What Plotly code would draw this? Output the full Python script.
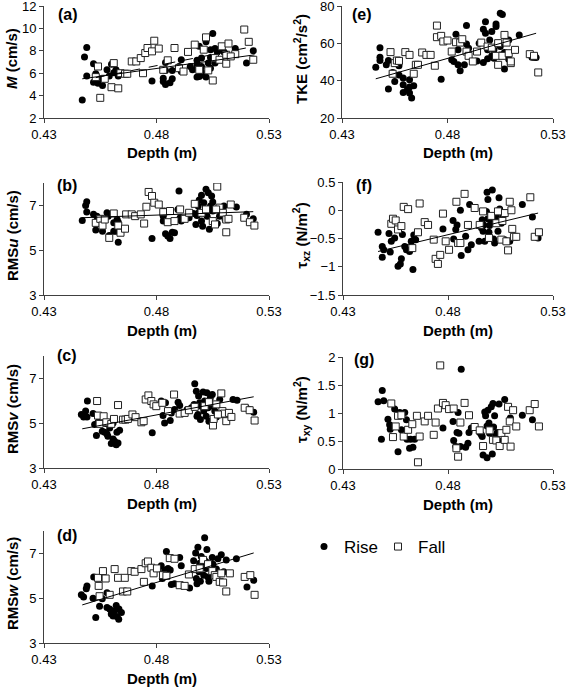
import plotly.graph_objects as go

W, H = 567, 687

# ---------------- data (depth m, value) ----------------
A_RISE = [(0.447,3.6),(0.449,8.3),(0.448,7.45),(0.449,5.75),(0.452,6.85),(0.453,5.95),(0.452,5.2),(0.454,5.1),(0.456,4.9),(0.455,5.5),
          (0.458,6.3),(0.459,5.75),(0.461,6.05),(0.462,6.3),(0.463,5.75),(0.460,6.8),(0.478,5.3),(0.483,5.25),(0.484,5.0),(0.486,5.15),
          (0.487,5.5),(0.483,5.55),(0.484,6.25),(0.484,6.95),(0.487,6.25),(0.491,7.2),(0.490,6.6),(0.491,6.15),(0.495,6.6),(0.496,6.3),
          (0.498,6.75),(0.498,7.15),(0.499,8.4),(0.500,7.35),(0.500,6.6),(0.499,5.7),(0.501,5.85),(0.502,5.65),(0.503,6.9),(0.504,8.1),
          (0.505,9.55),(0.502,8.8),(0.504,7.4),(0.506,8.2),(0.507,7.9),(0.506,6.9),(0.508,8.1),(0.510,7.9),(0.515,8.2),(0.520,6.9),
          (0.523,8.0),(0.498,5.65),(0.500,6.1),(0.504,6.45)]
A_FALL = [(0.454,6.6),(0.453,5.65),(0.455,3.8),(0.457,5.5),(0.460,4.75),(0.461,6.9),(0.463,4.65),(0.464,6.0),(0.466,5.95),(0.467,5.95),
          (0.469,7.05),(0.471,7.05),(0.473,7.35),(0.474,6.0),(0.475,7.8),(0.476,8.25),(0.478,7.95),(0.479,8.9),(0.481,8.2),(0.483,6.3),
          (0.485,7.15),(0.488,8.25),(0.490,6.45),(0.492,6.15),(0.494,7.9),(0.497,8.55),(0.499,6.3),(0.501,8.1),(0.502,9.2),(0.503,6.25),
          (0.505,5.35),(0.506,7.35),(0.508,7.2),(0.509,8.4),(0.511,7.65),(0.511,6.85),(0.512,8.65),(0.515,7.7),(0.519,9.9),(0.521,8.8),
          (0.523,7.2),(0.513,7.5)]

B_RISE = [(0.447,6.33),(0.449,7.16),(0.4485,7.0),(0.449,6.7),(0.452,6.6),(0.453,5.9),(0.4535,6.52),(0.456,5.85),(0.455,6.4),(0.458,6.67),
          (0.4585,6.52),(0.459,5.66),(0.461,6.22),(0.461,5.85),(0.462,5.85),(0.4625,6.37),(0.463,6.25),(0.463,5.36),(0.464,5.85),(0.478,5.52),
          (0.483,6.52),(0.483,6.3),(0.4835,6.75),(0.484,5.73),(0.485,5.63),(0.486,5.52),(0.487,5.8),(0.488,5.78),(0.4895,6.82),(0.490,7.64),
          (0.4905,6.45),(0.491,6.3),(0.4945,6.45),(0.4965,6.64),(0.4975,6.15),(0.498,6.55),(0.4985,6.97),(0.499,7.24),(0.499,6.7),(0.500,7.45),
          (0.500,6.3),(0.5005,6.07),(0.501,7.12),(0.502,7.72),(0.5025,6.52),(0.503,7.57),(0.5035,5.93),(0.504,6.97),(0.5045,7.42),(0.505,7.15),
          (0.505,6.75),(0.506,6.25),(0.507,6.19),(0.508,6.52),(0.510,6.97),(0.5105,6.37),(0.5155,6.93),(0.520,6.6),(0.523,6.4)]
B_FALL = [(0.453,6.22),(0.455,6.4),(0.456,6.1),(0.457,6.37),(0.459,5.55),(0.461,6.64),(0.463,6.1),(0.464,5.78),(0.466,5.96),(0.4665,6.6),
          (0.469,6.6),(0.4705,6.52),(0.473,6.6),(0.4745,6.19),(0.4755,6.94),(0.4765,7.6),(0.478,7.42),(0.479,7.12),(0.481,7.04),(0.483,6.7),
          (0.485,6.25),(0.486,6.75),(0.488,6.3),(0.4905,6.82),(0.4925,6.4),(0.4945,6.67),(0.497,7.07),(0.500,6.67),(0.502,6.82),(0.505,6.3),
          (0.506,6.15),(0.507,7.84),(0.508,6.9),(0.5095,6.67),(0.511,5.8),(0.511,6.37),(0.512,6.4),(0.513,7.04),(0.519,6.45),(0.5215,6.25),
          (0.5235,6.1),(0.5065,6.82)]

C_RISE = [(0.4466,5.39),(0.4476,5.28),(0.4485,5.54),(0.4493,5.99),(0.4491,5.28),(0.4518,5.43),(0.4525,4.94),(0.4533,4.45),(0.454,5.04),(0.4547,5.09),
          (0.4559,4.64),(0.457,4.6),(0.4574,4.99),(0.458,4.52),(0.4584,4.42),(0.4592,4.79),(0.4599,4.09),(0.4607,4.30),(0.4614,4.19),(0.4621,4.04),
          (0.4624,4.6),(0.4629,4.12),(0.4636,4.69),(0.4607,5.01),(0.4781,4.57),(0.4821,5.99),(0.4829,5.34),(0.4836,5.01),(0.484,5.91),(0.4861,5.12),
          (0.4866,5.46),(0.488,5.61),(0.4896,5.94),(0.4903,5.79),(0.4936,5.61),(0.4955,5.69),(0.4967,5.84),(0.497,6.76),(0.4977,6.43),(0.498,5.31),
          (0.4984,5.39),(0.4987,6.21),(0.4992,5.91),(0.4995,5.16),(0.4999,5.76),(0.5007,6.39),(0.501,5.54),(0.5014,5.99),(0.5021,5.31),(0.5024,6.36),
          (0.5029,5.69),(0.5033,5.09),(0.5039,6.13),(0.5048,6.28),(0.5051,5.76),(0.5059,5.54),(0.5066,5.28),(0.5081,6.06),(0.5096,5.39),(0.514,6.06),
          (0.5158,6.03),(0.5199,5.69),(0.5214,5.61),(0.5232,5.49)]
C_FALL = [(0.4536,5.99),(0.454,5.34),(0.4547,4.97),(0.4565,5.31),(0.4577,5.04),(0.4599,4.97),(0.4611,5.19),(0.4629,5.81),(0.4651,5.16),(0.4662,5.16),
          (0.4673,5.19),(0.4693,5.39),(0.4707,5.27),(0.4733,5.04),(0.4743,5.09),(0.4752,6.06),(0.4764,6.24),(0.4777,5.99),(0.4787,5.84),(0.4799,5.76),
          (0.4826,5.91),(0.4851,5.54),(0.4878,6.28),(0.4903,5.43),(0.4925,5.46),(0.4944,5.58),(0.497,5.73),(0.5014,5.76),(0.5033,5.94),(0.5051,4.90),
          (0.5054,5.19),(0.5066,5.84),(0.5088,6.33),(0.5093,5.54),(0.51,5.43),(0.511,5.09),(0.5122,5.46),(0.5133,5.28),(0.5192,5.69),(0.5214,5.58),
          (0.5236,5.12),(0.5073,5.39)]

D_RISE = [(0.4466,5.15),(0.4476,5.05),(0.4488,5.42),(0.4491,5.55),(0.4521,5.95),(0.4518,5.0),(0.453,4.14),(0.4547,4.64),(0.4559,4.97),(0.458,5.24),
          (0.458,4.59),(0.4592,4.52),(0.4599,4.29),(0.4607,4.21),(0.4614,4.44),(0.4621,4.67),(0.4624,4.18),(0.4632,4.06),(0.4633,4.52),(0.4644,4.36),
          (0.4781,5.55),(0.4821,6.45),(0.4826,5.88),(0.4836,6.26),(0.4844,7.09),(0.4851,6.33),(0.4861,6.26),(0.4866,5.61),(0.488,5.65),(0.4903,6.82),
          (0.491,6.45),(0.4947,5.45),(0.4965,6.67),(0.4974,7.02),(0.4977,5.88),(0.498,5.65),(0.4984,7.27),(0.4989,6.18),(0.4992,6.56),(0.4995,5.76),
          (0.4999,6.86),(0.5004,6.48),(0.501,6.03),(0.5014,7.70),(0.5019,6.64),(0.5021,6.33),(0.5024,7.17),(0.5029,5.95),(0.5033,5.76),(0.5039,6.41),
          (0.5048,6.82),(0.5051,6.52),(0.5059,6.18),(0.5066,6.3),(0.5073,6.76),(0.5088,6.94),(0.5099,6.18),(0.511,6.71),(0.5155,6.76),(0.5202,5.5),
          (0.5232,5.8)]
D_FALL = [(0.454,5.91),(0.4543,5.55),(0.4547,5.09),(0.4562,6.21),(0.4574,5.88),(0.4592,5.15),(0.4614,6.3),(0.4629,5.91),(0.4659,5.91),(0.4651,5.3),
          (0.467,5.3),(0.4688,6.21),(0.4703,6.18),(0.4733,6.3),(0.4744,5.73),(0.4752,6.56),(0.4762,6.64),(0.4777,6.36),(0.4787,6.11),(0.4802,6.33),
          (0.4829,6.03),(0.4844,6.0),(0.4859,6.79),(0.488,6.76),(0.4903,5.58),(0.4925,5.55),(0.4944,6.06),(0.497,6.3),(0.4992,6.33),(0.5007,6.71),
          (0.5029,6.52),(0.5048,6.21),(0.5059,6.03),(0.5066,5.95),(0.5081,5.73),(0.5088,6.11),(0.5096,5.7),(0.511,5.3),(0.5126,6.11),(0.5192,5.95),
          (0.5217,6.03),(0.5236,5.15)]

E_RISE = [(0.446,47.2),(0.448,52.6),(0.448,57.7),(0.448,50.8),(0.451,48.5),(0.452,50.8),(0.452,35.5),(0.454,44.4),(0.455,39.6),(0.457,43.1),
          (0.457,48.0),(0.459,37.8),(0.459,33.7),(0.461,35.1),(0.462,36.6),(0.462,40.5),(0.463,30.7),(0.464,37.3),(0.459,41.4),(0.462,33.4),
          (0.477,40.8),(0.482,51.2),(0.484,64.9),(0.483,50.3),(0.485,56.5),(0.485,48.5),(0.486,45.3),(0.488,48.5),(0.489,69.5),(0.489,59.7),
          (0.490,57.4),(0.494,50.6),(0.495,60.1),(0.497,67.5),(0.498,71.6),(0.497,49.7),(0.498,65.4),(0.499,56.5),(0.499,51.7),(0.500,61.8),
          (0.501,53.3),(0.501,66.3),(0.502,52.0),(0.503,69.0),(0.503,70.4),(0.505,76.1),(0.506,75.4),(0.505,58.3),(0.505,53.8),(0.502,56.5),
          (0.507,46.2),(0.507,55.1),(0.508,54.7),(0.509,61.8),(0.514,64.5),(0.520,52.6),(0.521,52.6),(0.522,52.4),(0.509,51.5)]
E_FALL = [(0.453,55.3),(0.455,49.4),(0.456,50.8),(0.457,50.6),(0.454,43.7),(0.460,55.3),(0.462,53.8),(0.464,43.7),(0.465,48.5),(0.466,48.5),
          (0.468,55.1),(0.470,53.8),(0.472,53.8),(0.474,48.0),(0.475,63.3),(0.475,69.5),(0.477,64.0),(0.478,61.0),(0.480,61.5),(0.482,55.6),
          (0.484,60.6),(0.486,60.4),(0.487,62.2),(0.489,55.6),(0.490,53.3),(0.492,50.3),(0.494,55.6),(0.496,60.4),(0.499,58.3),(0.501,57.7),
          (0.503,53.3),(0.504,60.1),(0.504,48.5),(0.506,53.3),(0.507,64.5),(0.508,60.4),(0.509,54.7),(0.510,49.4),(0.510,50.3),(0.512,56.5),
          (0.519,54.2),(0.521,53.3),(0.523,44.4)]

F_RISE = [(0.4467,-0.39),(0.4487,-0.83),(0.4487,-0.64),(0.4494,-0.70),(0.4519,-0.41),(0.4525,-0.74),(0.453,-0.55),(0.4546,-0.49),(0.4562,-0.99),(0.4573,-0.95),
          (0.4578,-0.86),(0.4583,-0.43),(0.4594,-0.64),(0.4602,-0.70),(0.4617,-0.73),(0.4625,-0.55),(0.4633,-1.05),(0.4637,-0.44),(0.4646,-0.52),(0.4776,-0.33),
          (0.4824,-0.18),(0.4827,-0.51),(0.4837,-0.34),(0.4843,-0.26),(0.4852,-0.57),(0.4859,0.0),(0.4863,-0.80),(0.4884,-0.46),(0.4895,-0.70),(0.4903,0.10),
          (0.4911,-0.61),(0.4948,-0.55),(0.4954,-0.26),(0.4959,-0.31),(0.4963,-0.17),(0.4967,-0.37),(0.497,-0.26),(0.4975,-0.55),(0.4983,-0.02),(0.4986,0.32),
          (0.499,0.19),(0.499,-0.15),(0.4995,-0.39),(0.4998,-0.27),(0.5,-0.17),(0.5011,0.36),(0.5017,-0.51),(0.5022,-0.58),(0.5027,-0.21),(0.503,-0.11),
          (0.5038,-0.37),(0.5043,0.22),(0.5046,0.02),(0.5054,-0.23),(0.5062,-0.10),(0.507,-0.52),(0.5094,-0.55),(0.5154,0.10),(0.5202,-0.12),(0.5229,-0.49)]
F_FALL = [(0.453,-0.24),(0.4538,-0.15),(0.4551,-0.18),(0.4562,-0.34),(0.4578,-0.28),(0.4589,0.06),(0.461,0.02),(0.463,-0.67),(0.4657,-0.39),(0.4665,0.12),
          (0.4689,-0.21),(0.4705,-0.26),(0.4732,-0.52),(0.4741,-0.86),(0.4752,-0.95),(0.4763,-0.79),(0.4776,-0.06),(0.4789,-0.55),(0.4805,-0.70),(0.484,0.15),
          (0.4848,-0.58),(0.4859,-0.58),(0.4879,0.29),(0.4895,-0.26),(0.4927,0.04),(0.4951,-0.26),(0.4967,-0.02),(0.4995,-0.49),(0.5006,-0.10),(0.503,-0.23),
          (0.5054,-0.52),(0.5059,-0.19),(0.507,-0.05),(0.5078,-0.55),(0.5086,-0.71),(0.5094,0.15),(0.5102,0.0),(0.5106,-0.33),(0.5114,-0.47),(0.5125,-0.47),
          (0.5192,0.23),(0.5213,-0.47),(0.5233,-0.39),(0.5038,-0.02)]

G_RISE = [(0.4467,1.20),(0.4487,1.40),(0.4494,1.22),(0.4483,0.53),(0.4514,0.89),(0.4522,0.79),(0.4525,0.71),(0.4546,1.07),(0.4562,0.31),(0.457,1.01),
          (0.4578,0.70),(0.4594,1.01),(0.4602,0.88),(0.4605,0.53),(0.4617,0.37),(0.4622,0.53),(0.4633,0.39),(0.4641,0.53),(0.4776,0.73),(0.4824,0.85),
          (0.4827,0.51),(0.4837,0.40),(0.4843,0.65),(0.4848,1.01),(0.4852,0.64),(0.4859,0.40),(0.4863,1.78),(0.4884,0.39),(0.4895,0.46),(0.49,0.65),
          (0.4911,0.73),(0.4951,0.65),(0.4959,0.61),(0.4963,0.58),(0.4967,0.25),(0.4975,1.02),(0.4979,0.95),(0.4986,0.20),(0.4986,0.77),(0.499,1.05),
          (0.4995,0.82),(0.4998,0.64),(0.5006,1.11),(0.5011,0.27),(0.5014,1.17),(0.5017,0.75),(0.5022,0.95),(0.5027,0.59),(0.503,0.51),(0.5035,0.65),
          (0.5043,1.16),(0.5049,0.49),(0.507,1.24),(0.5097,0.91),(0.5154,0.96),(0.5202,0.88)]
G_FALL = [(0.453,1.17),(0.4538,0.57),(0.4551,0.76),(0.4562,0.95),(0.4578,0.96),(0.4589,0.58),(0.461,0.70),(0.463,0.80),(0.4657,0.12),(0.4665,0.58),
          (0.4652,0.95),(0.4689,0.85),(0.4705,0.95),(0.4732,0.61),(0.4741,0.83),(0.4752,1.08),(0.4763,1.85),(0.4776,1.18),(0.4789,1.14),(0.4805,1.07),
          (0.4827,1.08),(0.484,0.37),(0.4848,0.22),(0.4859,0.83),(0.4879,1.18),(0.49,0.96),(0.4927,0.75),(0.4951,0.69),(0.4967,0.41),(0.4998,0.69),
          (0.5014,0.52),(0.503,0.51),(0.5046,0.41),(0.5054,0.64),(0.507,0.52),(0.5078,0.70),(0.5086,1.11),(0.5094,0.85),(0.5098,0.40),(0.511,1.05),
          (0.5125,0.76),(0.5189,1.05),(0.5213,1.16),(0.5233,0.76)]

# linear trendlines: (x0, x1), (y0, y1)
TREND_A_RISE = ((0.447, 0.5236), (5.5, 7.64))
TREND_A_FALL = ((0.453, 0.521), (5.6, 8.3))
TREND_B = ((0.447, 0.523), (6.45, 6.72))
TREND_C = ((0.447, 0.5232), (4.75, 6.18))
TREND_D = ((0.447, 0.5232), (4.70, 7.02))
TREND_E = ((0.446, 0.522), (41.0, 65.4))
TREND_F = ((0.4467, 0.5229), (-0.73, -0.05))

X_TICKS = [0.43, 0.48, 0.53]
X_TICK_TEXT = ["0.43", "0.48", "0.53"]
X_TITLE = "Depth (m)"

FONT = "Liberation Sans, Arial, sans-serif"

# panel specs: key, rise, fall, trends, y-range, y-ticks, y-title,
# plot box in px (x0, y0, x1, y1), label pos px, y-title x px, x-title x px
PANELS = [
    ("a", A_RISE, A_FALL, [(TREND_A_RISE, "solid"), (TREND_A_FALL, "dash")], [2, 12], [2, 4, 6, 8, 10, 12],
     "<b><i>M</i> (cm/s)</b>", (44, 6, 269, 118), (56, 14), 12, 162),
    ("b", B_RISE, B_FALL, [(TREND_B, "solid")], [3, 8], [3, 5, 7],
     "<b>RMS<i>u</i> (cm/s)</b>", (44, 183, 269, 295), (55, 186), 12, 162),
    ("c", C_RISE, C_FALL, [(TREND_C, "solid")], [3, 8], [3, 5, 7],
     "<b>RMS<i>v</i> (cm/s)</b>", (44, 356, 269, 468), (55, 355), 12, 162),
    ("d", D_RISE, D_FALL, [(TREND_D, "solid")], [3, 8], [3, 5, 7],
     "<b>RMS<i>w</i> (cm/s)</b>", (44, 531, 269, 643), (55, 535), 12, 162),
    ("e", E_RISE, E_FALL, [(TREND_E, "solid")], [20, 80], [20, 40, 60, 80],
     "<b>TKE (cm<sup>2</sup>/s<sup>2</sup>)</b>", (342, 6, 553, 118), (350, 14), 301, 458),
    ("f", F_RISE, F_FALL, [(TREND_F, "solid")], [-1.5, 0.5], [-1.5, -1, -0.5, 0, 0.5],
     "<b>τ<sub>xz</sub> (N/m<sup>2</sup>)</b>", (343, 182, 553, 295), (354, 186), 301, 458),
    ("g", G_RISE, G_FALL, [], [0, 2], [0, 0.5, 1, 1.5, 2],
     "<b>τ<sub>xy</sub> (N/m<sup>2</sup>)</b>", (343, 357, 553, 469), (352, 359), 301, 458),
]


def px(x):
    return x / W


def py(y):
    return 1 - y / H


fig = go.Figure()
layout = dict(
    width=W, height=H, margin=dict(l=0, r=0, t=0, b=0, autoexpand=False),
    paper_bgcolor="white", plot_bgcolor="white",
    font=dict(family=FONT, size=13, color="black"),
    showlegend=True,
    legend=dict(orientation="h", x=px(304), y=py(547), xanchor="left", yanchor="middle",
                font=dict(size=17, family=FONT), bgcolor="rgba(0,0,0,0)", itemwidth=30,
                entrywidth=29, entrywidthmode="pixels"),
)
annotations = []

for i, (key, rise, fall, trends, yr, yt, ytitle, box, lab, ytx, xtx) in enumerate(PANELS):
    n = "" if i == 0 else str(i + 1)
    xa, ya = "x" + n, "y" + n
    x0, y0, x1, y1 = box
    common = dict(ticks="outside", ticklen=4, tickcolor="#404040", tickwidth=1,
                  showline=True, linecolor="#404040", linewidth=1, showgrid=False,
                  zeroline=False, automargin=False, ticklabeloverflow="allow",
                  tickfont=dict(size=13, color="black"))
    layout["xaxis" + n] = dict(domain=[px(x0), px(x1)], anchor=ya, range=[0.43, 0.53],
                               tickvals=X_TICKS, ticktext=X_TICK_TEXT, **common)
    layout["yaxis" + n] = dict(domain=[py(y1), py(y0)], anchor=xa, range=yr, tickvals=yt, **common)
    fig.add_trace(go.Scatter(
        x=[p[0] for p in rise], y=[p[1] for p in rise], mode="markers", name="Rise",
        legendgroup="rise", showlegend=(i == 0), xaxis=xa, yaxis=ya,
        marker=dict(symbol="circle", size=7, color="black"),
    ))
    fig.add_trace(go.Scatter(
        x=[p[0] for p in fall], y=[p[1] for p in fall], mode="markers", name="Fall",
        legendgroup="fall", showlegend=(i == 0), xaxis=xa, yaxis=ya,
        marker=dict(symbol="square", size=7, color="white", line=dict(color="#222222", width=1)),
    ))
    for (tx, ty), dash in trends:
        fig.add_trace(go.Scatter(
            x=list(tx), y=list(ty), mode="lines", showlegend=False, hoverinfo="skip",
            xaxis=xa, yaxis=ya, line=dict(color="black", width=1, dash=dash),
        ))
    # panel letter
    annotations.append(dict(text="<b>(%s)</b>" % key, xref="paper", yref="paper",
                            x=px(lab[0]), y=py(lab[1]), xanchor="left", yanchor="middle",
                            showarrow=False, font=dict(size=16, family=FONT)))
    # y-axis title
    annotations.append(dict(text=ytitle, xref="paper", yref="paper", textangle=-90,
                            x=px(ytx), y=py((y0 + y1) / 2 - 3), xanchor="center", yanchor="middle",
                            showarrow=False, font=dict(size=15, family=FONT)))
    # x-axis title
    annotations.append(dict(text="<b>%s</b>" % X_TITLE, xref="paper", yref="paper",
                            x=px(xtx), y=py(y1 + 35), xanchor="center", yanchor="middle",
                            showarrow=False, font=dict(size=15, family=FONT)))

layout["annotations"] = annotations
fig.update_layout(**layout)
fig.write_html("out.html", config={"displayModeBar": False},
               post_script="document.body.style.margin='0px';")
